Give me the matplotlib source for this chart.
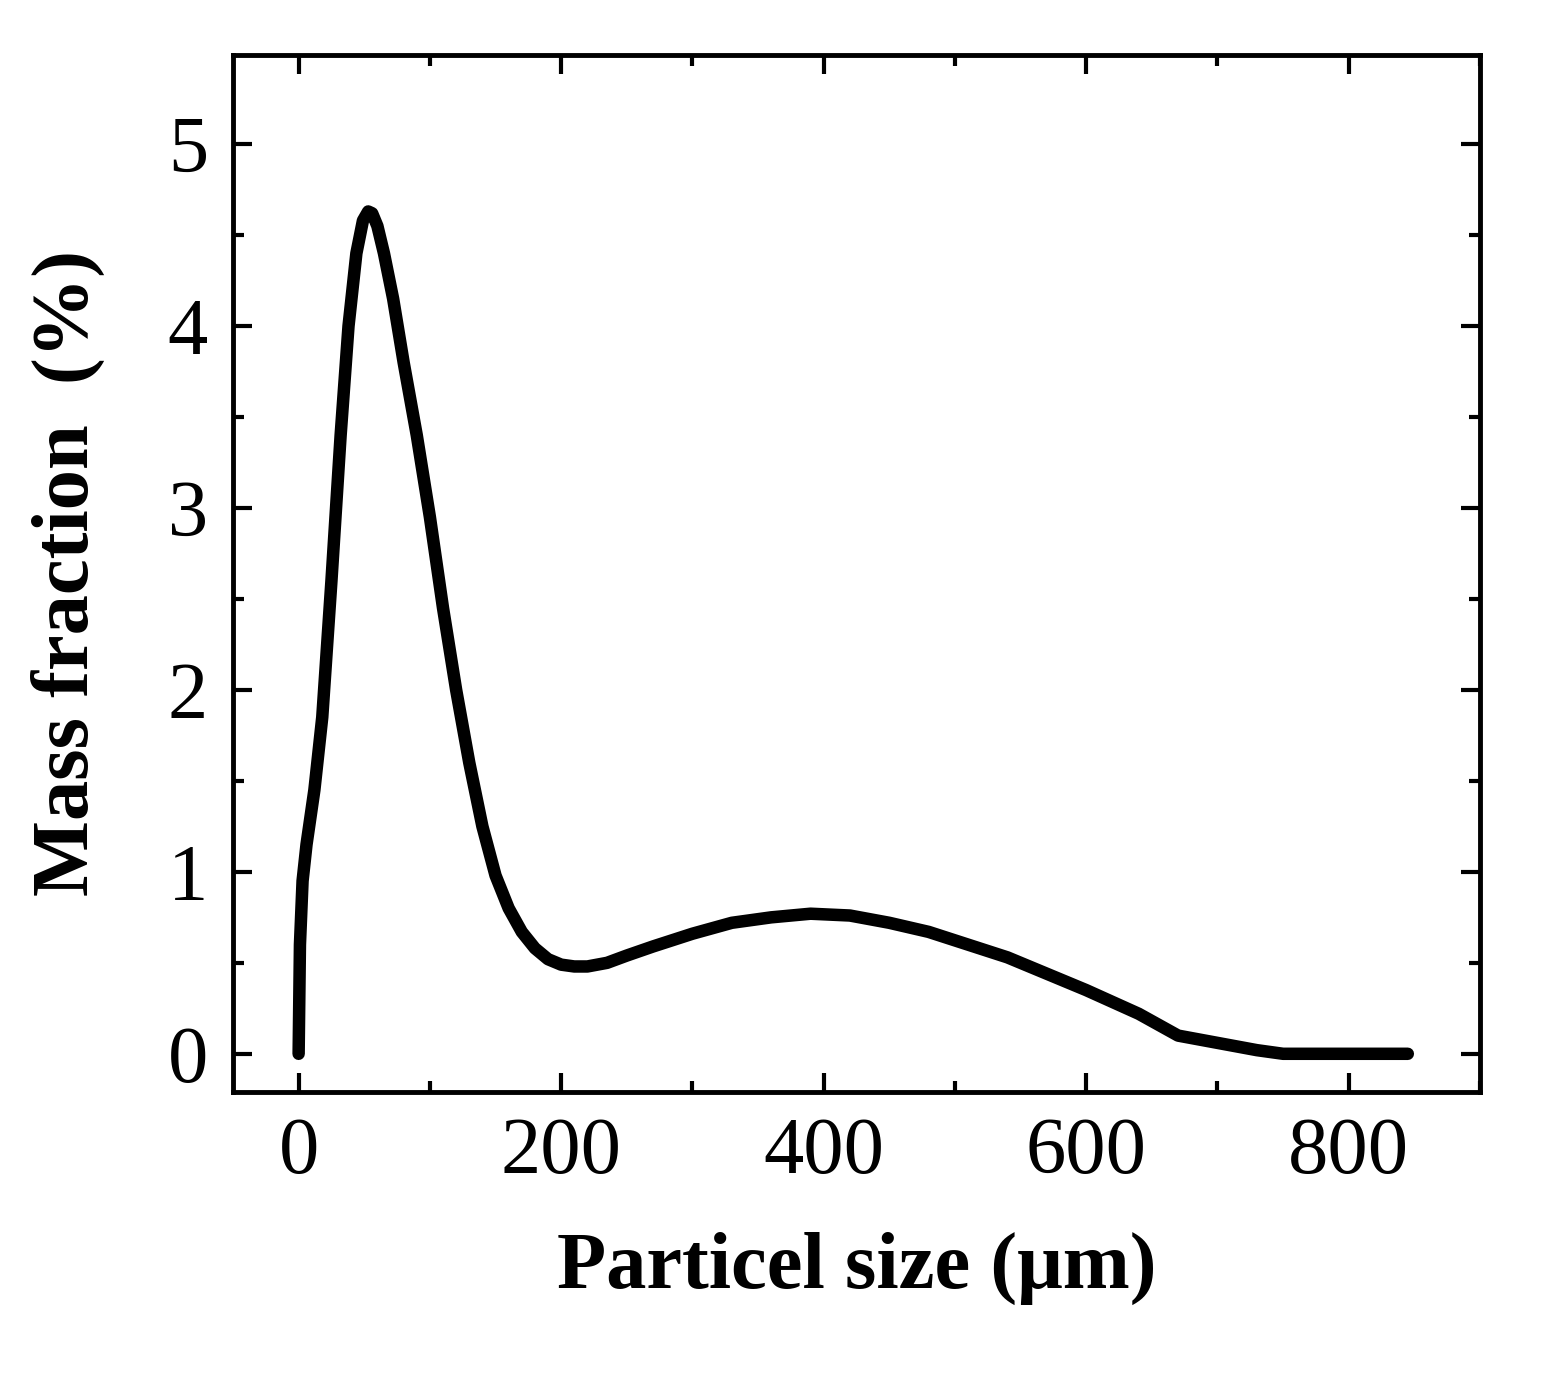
import numpy as np
import matplotlib.pyplot as plt
from matplotlib.ticker import MultipleLocator

plt.rcParams['font.family'] = ['Liberation Serif', 'DejaVu Serif']

size_um = [0, 1, 3, 6, 12, 18, 25, 32, 38, 44, 49, 53, 56, 60, 65, 72, 80, 90, 100,
           110, 120, 130, 140, 150, 160, 170, 180, 190, 200, 210, 220, 235, 250, 270,
           300, 330, 360, 390, 420, 450, 480, 510, 540, 570, 600, 640, 670, 700,
           730, 750, 800, 845]
mass_pct = [0, 0.6, 0.95, 1.15, 1.45, 1.85, 2.6, 3.4, 4.0, 4.4, 4.58, 4.63, 4.62,
            4.55, 4.4, 4.15, 3.8, 3.4, 2.95, 2.45, 2.0, 1.6, 1.25, 0.98, 0.8, 0.67,
            0.58, 0.52, 0.49, 0.48, 0.48, 0.5, 0.54, 0.59, 0.66, 0.72, 0.75, 0.77,
            0.76, 0.72, 0.67, 0.6, 0.53, 0.44, 0.35, 0.22, 0.1, 0.06, 0.02, 0.0,
            0.0, 0.0]

fig = plt.figure(figsize=(15.56, 13.8), dpi=100)
ax = fig.add_axes([233/1556, 1-1092/1380, (1480-233)/1556, (1092-55)/1380])
ax.plot(size_um, mass_pct, color='black', lw=9, solid_capstyle='round', solid_joinstyle='round')

ax.set_xlim(-50, 900)
ax.set_ylim(-0.21, 5.49)
ax.xaxis.set_major_locator(MultipleLocator(200))
ax.xaxis.set_minor_locator(MultipleLocator(100))
ax.yaxis.set_major_locator(MultipleLocator(1))
ax.yaxis.set_minor_locator(MultipleLocator(0.5))
ax.tick_params(which='both', direction='in', top=True, right=True, width=3)
ax.tick_params(which='major', length=14, labelsize=58, pad=18)
ax.tick_params(which='minor', length=8)
for s in ax.spines.values():
    s.set_linewidth(3.5)

ax.set_xlabel('Particel size (\u03bcm)', fontsize=58, fontweight='bold', labelpad=30)
ax.set_ylabel('Mass fraction  (%)', fontsize=58, fontweight='bold', labelpad=45)

fig.savefig('out.png', dpi=100)
